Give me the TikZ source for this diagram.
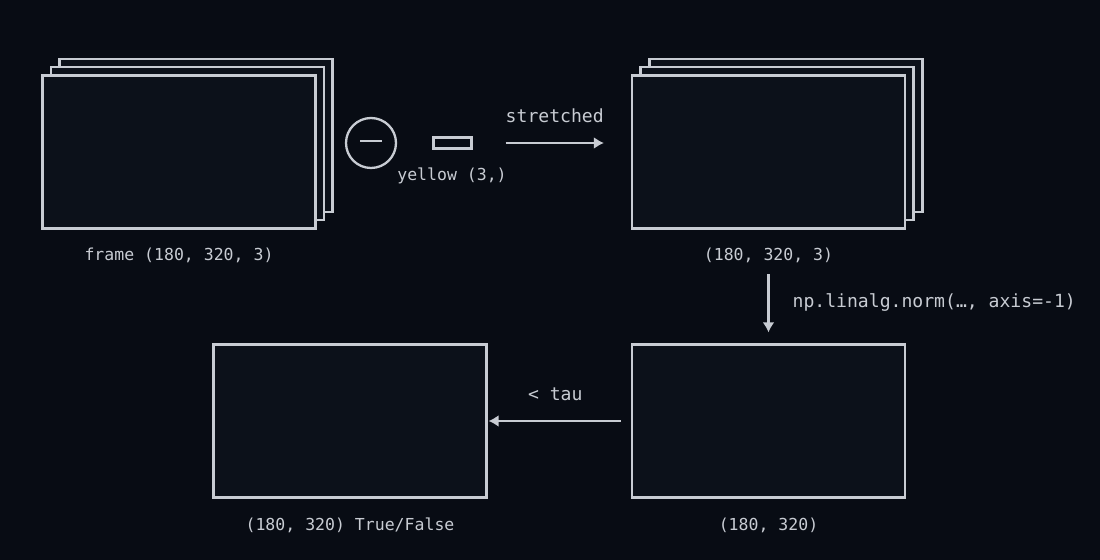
\documentclass[tikz,border=0pt]{standalone}
\usepackage{fontspec}
\setmonofont{DejaVu Sans Mono}
\usetikzlibrary{arrows.meta,positioning,calc}
\definecolor{bgc}{HTML}{080C14}
\definecolor{boxc}{HTML}{0C111A}
\definecolor{inkc}{HTML}{C8CCD3}

\begin{document}
\begin{tikzpicture}[>={Latex[length=0.2cm,width=0.24cm]},x=0.02cm,y=-0.02cm,line width=0.046cm,
  frm/.style={draw=inkc,fill=boxc,minimum width=5.46cm,minimum height=3.06cm,inner sep=0pt},
  capt/.style={text=inkc,font=\ttfamily\fontsize{9.4}{11}\selectfont},
  lbl/.style={text=inkc,font=\ttfamily\fontsize{10.3}{12}\selectfont},
  arr/.style={->,draw=inkc,line width=0.05cm}]
\fill[bgc] (0,0) rectangle (1100,560);
% input stack
\node[frm] (inB) at (196,135.5) {};\node[frm] (inM) at (187.5,143.5) {};\node[frm] (in) at (179,152) {};
\node[capt] (inCap) at (179,255) {frame (180, 320, 3)};
% minus yellow
\node[circle,draw=inkc,minimum size=1cm,inner sep=0pt] (sub) at (371,143) {};
\draw[inkc] ($(sub.center)+(-11,-2)$)--($(sub.center)+(11,-2)$);
\node[draw=inkc,minimum width=0.76cm,minimum height=0.22cm,inner sep=0pt] (vec) at (452.5,143) {};
\node[capt] (vecCap) at (452,176) {yellow (3,)};
% stretched stack
\node[frm] (stB) at (786,135.5) {};\node[frm] (stM) at (777,143.5) {};\node[frm] (st) at (768.5,152) {};
\node[capt] (stCap) at (768.5,255) {(180, 320, 3)};
\draw[arr,shorten <=0.66cm,shorten >=0.54cm] (vec.east)--(vec.east-|st.west) node[midway,above=0.26cm,xshift=0.06cm,lbl] {stretched};
% norm
\node[frm] (nrm) at (768.5,421) {};
\node[capt] (nrmCap) at (768.5,525) {(180, 320)};
\draw[arr,shorten <=0.1cm,shorten >=0.22cm] (stCap.south)--(nrm.north) node[midway,right=0.34cm,yshift=0.08cm,lbl] {np.linalg.norm(…, axis=-1)};
% mask
\node[frm] (msk) at (350,421) {};
\node[capt] (mskCap) at (350,525) {(180, 320) True/False};
\draw[arr,shorten <=0.2cm,shorten >=0.02cm] (nrm.west)--(msk.east) node[midway,above=0.26cm,xshift=-0.08cm,lbl] {< tau};
\end{tikzpicture}
\end{document}
